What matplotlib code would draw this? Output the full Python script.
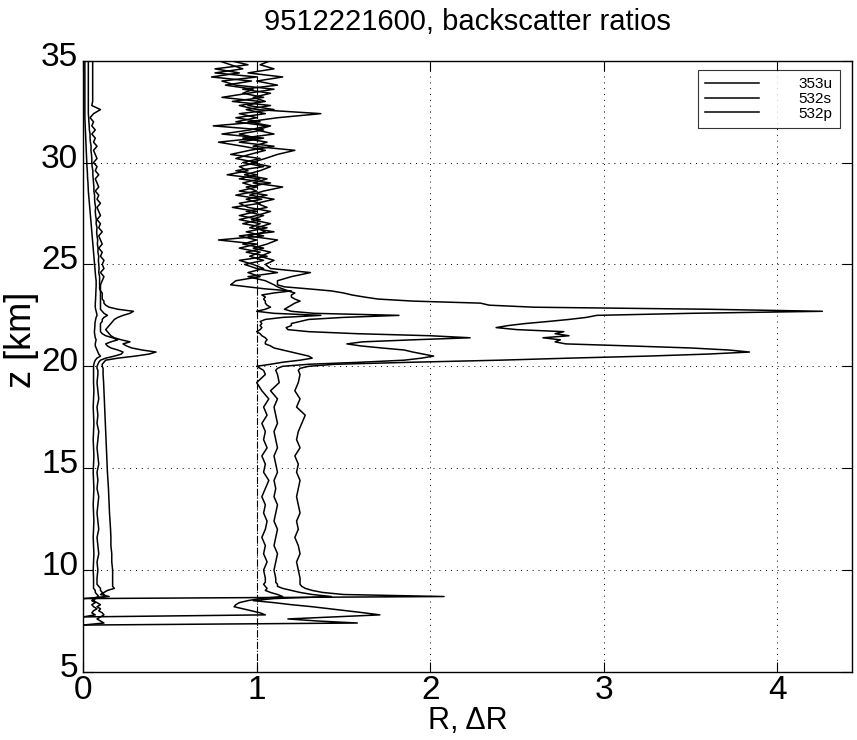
import numpy as np
import matplotlib
matplotlib.use('Agg')
import matplotlib.pyplot as plt
import matplotlib.transforms as mtransforms

plt.rcParams['font.family'] = ['Liberation Sans', 'DejaVu Sans']

# altitude bins [km]: cloud layer, troposphere/lower strat, PSC layer, upper strat
z = np.concatenate([np.linspace(7.2, 9.4, 23), np.linspace(9.6, 19.6, 26),
                    np.linspace(19.8, 24.0, 43), np.linspace(24.2, 35.0, 55)])

# backscatter ratios R
r532s = ([0, 0, 0, 0, 0, 0, 0, 0, 0, 0, 0, 0, 0, 0, 0, 2.08, 1.5, 1.38, 1.32, 1.28, 1.26, 1.25, 1.25]
         + [1.25, 1.24, 1.23, 1.25, 1.24, 1.22, 1.24, 1.23, 1.25, 1.24, 1.23, 1.24, 1.25,
            1.23, 1.24, 1.22, 1.25, 1.23, 1.24, 1.26, 1.28, 1.23, 1.25, 1.22, 1.24, 1.25]
         + [1.24, 1.25, 1.3, 1.45, 1.9, 2.4, 2.8, 3.25, 3.6, 3.84, 3.72, 3.5, 3.15, 2.78, 2.72,
            2.75, 2.65, 2.8, 2.72, 2.77, 2.5, 2.38, 2.45, 2.55, 2.68, 2.8, 2.9, 2.96, 3.5, 4.26,
            3.6, 2.6, 2.34, 2.29, 1.9, 1.7, 1.62, 1.55, 1.5, 1.43, 1.3, 1.16, 1.12]
         + [1.12, 1.2, 1.31, 1.08, 1.05, 1.1, 1.02, 1.08, 0.98, 1.06, 1.12, 0.95, 1.05, 1.0,
            1.08, 0.97, 1.04, 0.94, 1.06, 1.0, 1.1, 0.96, 1.04, 1.15, 0.98, 1.06, 0.93, 1.02,
            1.08, 0.97, 1.05, 1.12, 1.22, 0.98, 1.06, 0.92, 1.1, 1.0, 1.08, 0.95, 1.12, 1.37,
            1.0, 0.9, 1.05, 0.98, 1.08, 0.92, 1.12, 1.0, 1.15, 0.95, 1.1, 1.02, 1.08])
r532p = ([0, 0, 1.58, 1.35, 1.18, 1.45, 1.71, 1.62, 1.52, 1.42, 1.32, 1.2, 1.1, 0.98, 1.1,
          1.43, 1.32, 1.25, 1.2, 1.15, 1.12, 1.12, 1.11]
         + [1.11, 1.1, 1.11, 1.12, 1.1, 1.11, 1.12, 1.1, 1.11, 1.12, 1.1, 1.11, 1.1, 1.12, 1.11,
            1.1, 1.12, 1.11, 1.1, 1.12, 1.11, 1.1, 1.12, 1.08, 1.13, 1.12]
         + [1.11, 1.12, 1.15, 1.3, 1.6, 1.85, 1.95, 2.02, 1.96, 1.9, 1.85, 1.72, 1.6, 1.52, 1.61,
            1.9, 2.23, 2.0, 1.58, 1.3, 1.18, 1.17, 1.2, 1.2, 1.25, 1.3, 1.5, 1.82, 1.33, 1.2,
            1.16, 1.18, 1.2, 1.22, 1.25, 1.22, 1.2, 1.2, 1.22, 1.18, 1.15, 1.12, 1.1]
         + [1.05, 0.95, 1.12, 1.0, 0.93, 1.04, 0.96, 1.02, 0.9, 1.0, 0.78, 1.04, 0.94, 1.06,
            0.92, 1.02, 0.9, 1.0, 0.86, 1.02, 0.94, 1.06, 0.9, 1.0, 0.92, 1.02, 0.83, 0.95, 0.9,
            1.0, 0.88, 0.96, 1.05, 0.92, 0.78, 1.0, 0.9, 1.04, 0.75, 1.02, 0.88, 1.05, 0.94,
            1.08, 0.86, 1.04, 0.92, 0.98, 0.82, 0.97, 0.74, 0.9, 0.76, 0.95, 0.85])
r353u = ([0, 0, 0, 0, 0, 0, 1.05, 1.02, 0.97, 0.92, 0.87, 0.88, 0.9, 0.95, 1.02, 1.15, 1.12,
          1.08, 1.05, 1.06, 1.05, 1.04, 1.05]
         + [1.05, 1.04, 1.06, 1.04, 1.05, 1.03, 1.05, 1.06, 1.04, 1.05, 1.03, 1.05, 1.07, 1.04,
            1.05, 1.03, 1.06, 1.04, 1.05, 1.03, 1.06, 1.04, 1.07, 1.03, 1.0, 1.05]
         + [1.04, 1.02, 1.0, 1.08, 1.15, 1.25, 1.32, 1.3, 1.25, 1.2, 1.15, 1.1, 1.08, 1.05, 1.05,
            1.06, 1.05, 1.03, 1.02, 1.0, 1.02, 1.03, 1.02, 1.03, 1.02, 1.05, 1.15, 1.37, 1.1,
            1.0, 1.05, 1.08, 1.06, 1.05, 1.05, 1.04, 1.05, 1.03, 1.1, 1.2, 1.05, 0.95, 0.85]
         + [0.88, 1.02, 0.95, 1.04, 0.98, 0.9, 1.06, 0.94, 1.04, 0.92, 1.0, 0.9, 1.1, 0.96,
            1.02, 0.9, 1.0, 1.08, 0.95, 0.9, 1.03, 0.88, 1.0, 0.94, 1.08, 0.9, 1.0, 0.88, 1.04,
            0.92, 1.02, 0.85, 0.96, 1.1, 0.9, 1.04, 0.8, 0.96, 1.06, 0.88, 1.0, 0.9, 1.1, 0.95,
            1.02, 0.8, 0.95, 1.1, 0.88, 0.8, 1.0, 0.76, 0.92, 0.85, 0.78])

# errors dR
d532s = ([0] * 15 + [0.15, 0.1, 0.12, 0.14, 0.18, 0.17, 0.17, 0.17]
         + [0.17, 0.17, 0.165, 0.165, 0.16, 0.16, 0.158, 0.155, 0.152, 0.15, 0.148, 0.146,
            0.143, 0.14, 0.138, 0.136, 0.134, 0.132, 0.13, 0.128, 0.126, 0.124, 0.122, 0.12,
            0.118, 0.115]
         + [0.115, 0.115, 0.11, 0.11, 0.12, 0.13, 0.2, 0.3, 0.38, 0.42, 0.34, 0.28, 0.25, 0.23,
            0.27, 0.22, 0.18, 0.16, 0.15, 0.14, 0.13, 0.14, 0.15, 0.16, 0.17, 0.18, 0.2, 0.23,
            0.27, 0.29, 0.2, 0.15, 0.13, 0.12, 0.12, 0.11, 0.11, 0.11, 0.11, 0.1, 0.1, 0.1, 0.1]
         + [0.11, 0.12, 0.1, 0.12, 0.11, 0.12, 0.1, 0.11, 0.09, 0.11, 0.1, 0.09, 0.11, 0.09,
            0.1, 0.08, 0.1, 0.09, 0.08, 0.1, 0.08, 0.09, 0.07, 0.09, 0.08, 0.07, 0.09, 0.07,
            0.08, 0.06, 0.08, 0.07, 0.06, 0.08, 0.06, 0.07, 0.05, 0.07, 0.05, 0.06, 0.04, 0.06,
            0.1, 0.05, 0.055, 0.055, 0.055, 0.055, 0.055, 0.055, 0.055, 0.055, 0.055, 0.055,
            0.055])
d532p = ([0, 0, 0.12, 0.1, 0.08, 0.1, 0.12, 0.11, 0.09, 0.1, 0.08, 0.1, 0.08, 0.06, 0.07,
          0.13, 0.12, 0.11, 0.1, 0.1, 0.09, 0.08, 0.08]
         + [0.08, 0.085, 0.08, 0.09, 0.085, 0.08, 0.09, 0.085, 0.08, 0.085, 0.09, 0.08, 0.085,
            0.08, 0.09, 0.085, 0.08, 0.085, 0.09, 0.08, 0.085, 0.08, 0.09, 0.085, 0.08, 0.085]
         + [0.085, 0.08, 0.08, 0.085, 0.09, 0.1, 0.13, 0.18, 0.22, 0.23, 0.2, 0.16, 0.14, 0.13,
            0.16, 0.2, 0.17, 0.13, 0.11, 0.1, 0.1, 0.1, 0.1, 0.1, 0.11, 0.11, 0.12, 0.14, 0.12,
            0.11, 0.1, 0.1, 0.1, 0.1, 0.1, 0.1, 0.1, 0.1, 0.1, 0.1, 0.095, 0.095, 0.095]
         + [0.095, 0.095, 0.09, 0.092, 0.09, 0.088, 0.09, 0.085, 0.086, 0.082, 0.084, 0.08,
            0.078, 0.08, 0.075, 0.076, 0.072, 0.07, 0.072, 0.068, 0.066, 0.066, 0.062, 0.062,
            0.06, 0.058, 0.056, 0.056, 0.052, 0.05, 0.05, 0.048, 0.045, 0.046, 0.042, 0.04,
            0.04, 0.036, 0.035, 0.033, 0.032] + [0.03] * 14)
d353u = ([0] * 6 + [0.07, 0.05, 0.06, 0.08, 0.06, 0.05, 0.07, 0.05, 0.06, 0.09, 0.08, 0.07,
                    0.07, 0.06, 0.06, 0.06, 0.06]
         + [0.06, 0.058, 0.06, 0.062, 0.06, 0.058, 0.06, 0.062, 0.06, 0.058, 0.06, 0.062, 0.06,
            0.058, 0.06, 0.062, 0.06, 0.058, 0.06, 0.062, 0.06, 0.058, 0.06, 0.062, 0.06, 0.06]
         + [0.06, 0.06, 0.06, 0.062, 0.065, 0.07, 0.08, 0.1, 0.09, 0.085, 0.08, 0.075, 0.07,
            0.07, 0.072, 0.075, 0.07, 0.068, 0.066, 0.065, 0.066, 0.067, 0.068, 0.068, 0.07,
            0.072, 0.075, 0.08, 0.078, 0.075, 0.072, 0.07, 0.07, 0.07, 0.071, 0.072, 0.072,
            0.073, 0.073, 0.074, 0.074, 0.075, 0.075]
         + [0.075, 0.072, 0.07, 0.068, 0.066, 0.064, 0.062, 0.06, 0.058, 0.056, 0.054, 0.052,
            0.05, 0.048, 0.046, 0.044, 0.042, 0.04, 0.038, 0.036, 0.034, 0.032, 0.03, 0.029,
            0.028, 0.026, 0.025, 0.024, 0.022, 0.021, 0.02, 0.019, 0.018, 0.017, 0.016, 0.015,
            0.014, 0.013, 0.012, 0.011] + [0.01] * 15)

fig = plt.figure(figsize=(8.57, 7.4), dpi=100)
ax = fig.add_axes([0.097, 0.092, 0.897, 0.826])

ax.plot(r353u, z, 'k-', lw=1.1, label='353u')
ax.plot(r532s, z, 'k-', lw=1.1, label='532s')
ax.plot(r532p, z, 'k-', lw=1.1, label='532p')
for d in (d353u, d532s, d532p):
    ax.plot(d, z, 'k-', lw=1.1)
ax.axvline(1, color='k', ls='-.', lw=0.8)

ax.set_xlim(0, 4.43)
ax.set_ylim(5, 35)
ax.set_xticks([0, 1, 2, 3, 4])
ax.set_yticks([5, 10, 15, 20, 25, 30, 35])
ax.grid(True, color='k', ls=(0, (1, 5)), lw=0.7)
ax.tick_params(direction='in', length=7, top=True, right=True, labelsize=24, width=0.8)
ax.tick_params(axis='x', pad=2)
for s in ax.spines.values():
    s.set_linewidth(1.0)

# y tick labels sit a little above their ticks, as in the original
shift = mtransforms.ScaledTranslation(0, 7 / 100, fig.dpi_scale_trans)
for lab in ax.get_yticklabels():
    lab.set_transform(lab.get_transform() + shift)

ax.set_title('9512221600, backscatter ratios', fontsize=21, pad=22)
ax.set_xlabel('R, ΔR', fontsize=22, labelpad=0)
ax.set_ylabel('z [km]', fontsize=26)
ax.yaxis.set_label_coords(-0.058, 0.543)

leg = ax.legend(loc='upper right', bbox_to_anchor=(0.995, 0.998), fontsize=11,
                frameon=True, fancybox=False, edgecolor='k', handlelength=3.5,
                handletextpad=2.6, borderpad=0.5, labelspacing=0.05)
leg.get_frame().set_linewidth(0.8)

fig.savefig('out.png', dpi=100)
